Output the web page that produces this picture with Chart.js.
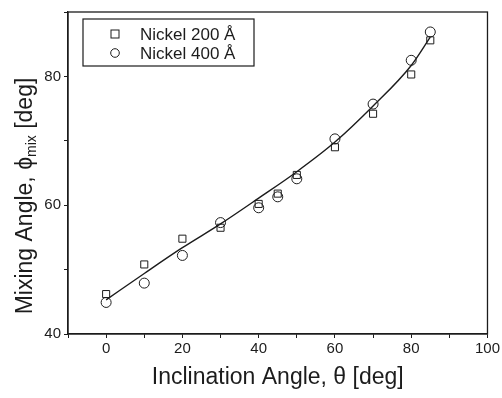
<!DOCTYPE html>
<html>
<head>
<meta charset="utf-8">
<script src="https://cdn.jsdelivr.net/npm/chart.js@4.4.1/dist/chart.umd.min.js"></script>
<style>
  html, body { margin: 0; padding: 0; background: #fff; }
  #wrap { width: 502px; height: 398px; position: relative; }
</style>
</head>
<body>
<div id="wrap"><canvas id="chart"></canvas></div>
<script>
// inclination angles (deg) measured
const angles = [0, 10, 20, 30, 40, 45, 50, 60, 70, 80, 85];
// mixing angle, Nickel 200 A (squares)
const nickel200 = [46.2, 50.8, 54.8, 56.5, 60.2, 61.8, 64.7, 69.0, 74.2, 80.3, 85.6];
// mixing angle, Nickel 400 A (circles)
const nickel400 = [44.9, 47.9, 52.2, 57.3, 59.6, 61.3, 64.1, 70.3, 75.7, 82.5, 86.9];
// fitted curve
const fitAngles = [0, 10, 20, 30, 40, 50, 60, 70, 80, 85];
const fitValues = [45.3, 49.4, 53.4, 57.1, 61.1, 65.2, 69.8, 75.4, 81.7, 86.1];

const xTickLabels = [0, 20, 40, 60, 80, 100];
const yTickLabels = [40, 60, 80];
const legendLabels = ['Nickel 200 Å', 'Nickel 400 Å'];

const FONT = '"Liberation Sans", Arial, Helvetica, sans-serif';
const INK = '#1c1c1c';

function toPoints(xs, ys) {
  return xs.map((x, i) => ({ x: x, y: ys[i] }));
}

// frame, legend box and the y title (needs a subscript)
const decorations = {
  id: 'decorations',
  afterDraw(chart) {
    const ctx = chart.ctx;
    const a = chart.chartArea;
    ctx.save();
    ctx.strokeStyle = INK;
    ctx.lineWidth = 1.3;
    ctx.strokeRect(a.left, a.top, a.right - a.left, a.bottom - a.top);

    // legend
    const bx = 83, by = 19, bw = 171, bh = 47;
    ctx.lineWidth = 1.2;
    ctx.strokeRect(bx, by, bw, bh);
    ctx.fillStyle = INK;
    ctx.font = '17px ' + FONT;
    ctx.textBaseline = 'middle';
    ctx.textAlign = 'left';
    const rows = [34, 53];
    ctx.lineWidth = 1;
    ctx.strokeRect(115 - 4, rows[0] - 4, 8, 8);
    ctx.beginPath();
    ctx.arc(115, rows[1], 4.3, 0, Math.PI * 2);
    ctx.stroke();
    legendLabels.forEach((t, i) => ctx.fillText(t, 140, rows[i] + 1));

    // y axis title, rotated
    ctx.translate(24, 196);
    ctx.rotate(-Math.PI / 2);
    const big = '23px ' + FONT;
    const small = '14px ' + FONT;
    const p1 = 'Mixing Angle, ϕ';
    const p2 = 'mix';
    const p3 = ' [deg]';
    ctx.font = big;
    const w1 = ctx.measureText(p1).width;
    const w3 = ctx.measureText(p3).width;
    ctx.font = small;
    const w2 = ctx.measureText(p2).width;
    let x = -(w1 + w2 + w3) / 2;
    ctx.textBaseline = 'alphabetic';
    ctx.font = big;
    ctx.fillText(p1, x, 8);
    x += w1;
    ctx.font = small;
    ctx.fillText(p2, x, 12);
    x += w2;
    ctx.font = big;
    ctx.fillText(p3, x, 8);
    ctx.restore();
  }
};

const ctx = document.getElementById('chart').getContext('2d');
new Chart(ctx, {
  type: 'scatter',
  data: {
    datasets: [
      {
        label: legendLabels[0],
        data: toPoints(angles, nickel200),
        pointStyle: 'rect',
        pointRadius: 5,
        borderColor: INK,
        backgroundColor: 'rgba(255,255,255,0)',
        borderWidth: 1,
        showLine: false
      },
      {
        label: legendLabels[1],
        data: toPoints(angles, nickel400),
        pointStyle: 'circle',
        pointRadius: 5,
        borderColor: INK,
        backgroundColor: 'rgba(255,255,255,0)',
        borderWidth: 1,
        showLine: false
      },
      {
        label: 'fit',
        type: 'line',
        data: toPoints(fitAngles, fitValues),
        pointRadius: 0,
        borderColor: INK,
        borderWidth: 1.4,
        cubicInterpolationMode: 'monotone',
        fill: false
      }
    ]
  },
  options: {
    responsive: true,
    maintainAspectRatio: false,
    animation: false,
    layout: { padding: { top: 10, right: 13, left: 0, bottom: 0 } },
    plugins: {
      legend: { display: false },
      tooltip: { enabled: false }
    },
    scales: {
      x: {
        type: 'linear',
        min: -10,
        max: 100,
        afterFit: (scale) => { scale.height = 64; },
        grid: { drawOnChartArea: false, tickLength: 4, color: INK, tickColor: INK },
        border: { color: INK, width: 1.3 },
        ticks: {
          stepSize: 10,
          color: INK,
          padding: 2,
          maxRotation: 0,
          font: { family: FONT, size: 15 },
          callback: (v) => xTickLabels.includes(v) ? String(v) : ''
        },
        title: {
          display: true,
          text: 'Inclination Angle, θ [deg]',
          color: INK,
          font: { family: FONT, size: 23 },
          padding: { top: 0, bottom: 7 }
        }
      },
      y: {
        min: 40,
        max: 90,
        afterFit: (scale) => { scale.width = 68; },
        grid: { drawOnChartArea: false, tickLength: 4, color: INK, tickColor: INK },
        border: { color: INK, width: 1.3 },
        ticks: {
          stepSize: 10,
          color: INK,
          padding: 3,
          font: { family: FONT, size: 15 },
          callback: (v) => yTickLabels.includes(v) ? String(v) : ''
        }
      }
    }
  },
  plugins: [decorations]
});
</script>
</body>
</html>
